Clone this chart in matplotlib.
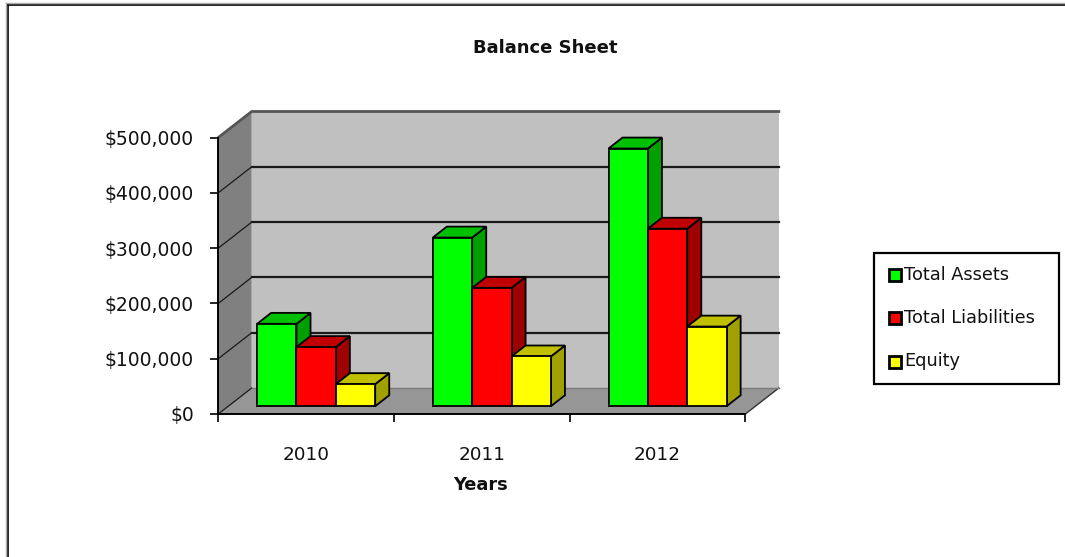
import matplotlib
matplotlib.use("Agg")
import matplotlib.pyplot as plt
from matplotlib.patches import Polygon, Rectangle
from matplotlib.lines import Line2D
from matplotlib.ticker import FuncFormatter, FixedLocator

# ---------------- data ----------------
years = ["2010", "2011", "2012"]
series_names = ["Total Assets", "Total Liabilities", "Equity"]
total_assets = [149000, 305000, 466000]
total_liabilities = [107000, 214000, 321000]
equity = [40000, 90000, 144000]
y_ticks = [0, 100000, 200000, 300000, 400000, 500000]
title = "Balance Sheet"
x_title = "Years"

series_values = [total_assets, total_liabilities, equity]
front_colors = ["#00FF00", "#FF0000", "#FFFF00"]
top_colors = ["#00C000", "#C00000", "#C0C000"]
side_colors = ["#00A000", "#A00000", "#A0A000"]

# ---------------- geometry (pixel layout) ----------------
W, H = 1065, 557
fig = plt.figure(figsize=(W / 100, H / 100), dpi=100)
fig.patch.set_facecolor("white")

x0_pix, y0_pix = 218.3, 414.0      # front origin of the plot
cat_pix = 175.7                    # pixels per category
val_pix = 55.3 / 100000            # pixels per value unit

ax = fig.add_axes([0, 0, 1, 1])
ax.set_xlim(-x0_pix / cat_pix, (W - x0_pix) / cat_pix)
ax.set_ylim((y0_pix - H) / val_pix, y0_pix / val_pix)
ax.patch.set_visible(False)

n_cat = len(years)
vmax = y_ticks[-1]
DX = 33.4 / cat_pix        # oblique depth offset (x data units)
DY = 26.0 / val_pix        # oblique depth offset (y data units)


def p(x, y, d):
    """point at front coords (x, y) moved back by depth fraction d"""
    return (x + d * DX, y + d * DY)


# back wall
ax.add_patch(Polygon([p(0, 0, 1), p(n_cat, 0, 1), p(n_cat, vmax, 1), p(0, vmax, 1)],
                     closed=True, facecolor="#C0C0C0", edgecolor="none", zorder=1))
# side wall
ax.add_patch(Polygon([p(0, 0, 0), p(0, 0, 1), p(0, vmax, 1), p(0, vmax, 0)],
                     closed=True, facecolor="#808080", edgecolor="none", zorder=1))
# floor
ax.add_patch(Polygon([p(0, 0, 0), p(n_cat, 0, 0), p(n_cat, 0, 1), p(0, 0, 1)],
                     closed=True, facecolor="#969696", edgecolor="none", zorder=1))

# gridlines
for v in y_ticks[1:-1]:
    a, b = p(0, v, 1), p(n_cat, v, 1)
    ax.add_line(Line2D([a[0], b[0]], [a[1], b[1]], color="#1a1a1a", lw=1.6, zorder=2))
for v in y_ticks[:-1]:
    a, b = p(0, v, 0), p(0, v, 1)
    ax.add_line(Line2D([a[0], b[0]], [a[1], b[1]], color="#1a1a1a", lw=0.9, zorder=2))
# top edge of walls
a, b, c = p(0, vmax, 0), p(0, vmax, 1), p(n_cat, vmax, 1)
ax.add_line(Line2D([a[0], b[0], c[0]], [a[1], b[1], c[1]], color="#555555", lw=2.0, zorder=2))
# right floor edge
a, b = p(n_cat, 0, 0), p(n_cat, 0, 1)
ax.add_line(Line2D([a[0], b[0]], [a[1], b[1]], color="#333333", lw=1.0, zorder=2))
# back floor edge
a, b = p(0, 0, 1), p(n_cat, 0, 1)
ax.add_line(Line2D([a[0], b[0]], [a[1], b[1]], color="#7a7a7a", lw=1.0, zorder=2))

# bars
bar_w = 0.224
group_off = (1 - bar_w * len(series_values)) / 2
d0, d1 = 0.30, 0.72
z = 3
for ci in range(n_cat):
    for si, vals in enumerate(series_values):
        v = vals[ci]
        xl = ci + group_off + si * bar_w
        xr = xl + bar_w
        side = [p(xr, 0, d0), p(xr, 0, d1), p(xr, v, d1), p(xr, v, d0)]
        top = [p(xl, v, d0), p(xr, v, d0), p(xr, v, d1), p(xl, v, d1)]
        front = [p(xl, 0, d0), p(xr, 0, d0), p(xr, v, d0), p(xl, v, d0)]
        ax.add_patch(Polygon(side, closed=True, facecolor=side_colors[si],
                             edgecolor="black", lw=1.3, joinstyle="miter", zorder=z))
        ax.add_patch(Polygon(top, closed=True, facecolor=top_colors[si],
                             edgecolor="black", lw=1.3, joinstyle="miter", zorder=z))
        ax.add_patch(Polygon(front, closed=True, facecolor=front_colors[si],
                             edgecolor="black", lw=1.3, joinstyle="miter", zorder=z))
        z += 1

# axes spines / ticks
for s in ["top", "right"]:
    ax.spines[s].set_visible(False)
ax.spines["left"].set_position(("data", 0))
ax.spines["left"].set_bounds(0, vmax)
ax.spines["bottom"].set_position(("data", 0))
ax.spines["bottom"].set_bounds(0, n_cat)
for s in ["left", "bottom"]:
    ax.spines[s].set_linewidth(1.4)
    ax.spines[s].set_color("black")
    ax.spines[s].set_zorder(50)

ax.yaxis.set_major_locator(FixedLocator(y_ticks))
ax.yaxis.set_major_formatter(FuncFormatter(lambda v, pos: "${:,.0f}".format(v)))
ax.tick_params(axis="y", direction="out", length=5.5, width=1.2, pad=12,
               labelsize=13.5, labelcolor="#111111")
ax.xaxis.set_major_locator(FixedLocator(list(range(n_cat + 1))))
ax.xaxis.set_major_formatter(FuncFormatter(lambda v, pos: ""))
ax.xaxis.set_minor_locator(FixedLocator([i + 0.5 for i in range(n_cat)]))
ax.set_xticklabels(years, minor=True)
ax.tick_params(axis="x", which="major", direction="out", length=6, width=1.2)
ax.tick_params(axis="x", which="minor", length=0, pad=23, labelsize=13.2,
               labelcolor="#111111")


def fpx(x, y):
    return (x / W, 1 - y / H)


# title and axis title
fig.text(*fpx(545, 48), title, ha="center", va="center", fontsize=13,
         fontweight="bold", color="#111111")
fig.text(*fpx(481, 485), x_title, ha="center", va="center", fontsize=12.8,
         fontweight="bold", color="#111111")

# legend (manual, Excel style)
fig.patches.append(Rectangle(fpx(874, 384), (1059 - 874) / W, (384 - 253) / H,
                             transform=fig.transFigure, facecolor="white",
                             edgecolor="black", lw=1.6, zorder=5))
legend_y = [275, 318, 361.5]
for name, col, ly in zip(series_names, front_colors, legend_y):
    fig.patches.append(Rectangle(fpx(888.5, ly + 6), 12 / W, 12 / H,
                                 transform=fig.transFigure, facecolor=col,
                                 edgecolor="black", lw=2.0, zorder=6))
    fig.text(*fpx(904, ly), name, ha="left", va="center", fontsize=12.8,
             color="#111111", zorder=7)

# outer frame
fig.add_artist(Line2D([8 / W, 8 / W], [0, 1 - 5 / H], transform=fig.transFigure,
                      color="black", lw=1.2))
fig.add_artist(Line2D([6 / W, 6 / W], [0, 1 - 3 / H], transform=fig.transFigure,
                      color="#aaaaaa", lw=1.0))
fig.add_artist(Line2D([8 / W, 1], [1 - 5 / H, 1 - 5 / H], transform=fig.transFigure,
                      color="black", lw=1.2))
fig.add_artist(Line2D([6 / W, 1], [1 - 3 / H, 1 - 3 / H], transform=fig.transFigure,
                      color="#aaaaaa", lw=1.0))

fig.savefig("out.png", dpi=100)
